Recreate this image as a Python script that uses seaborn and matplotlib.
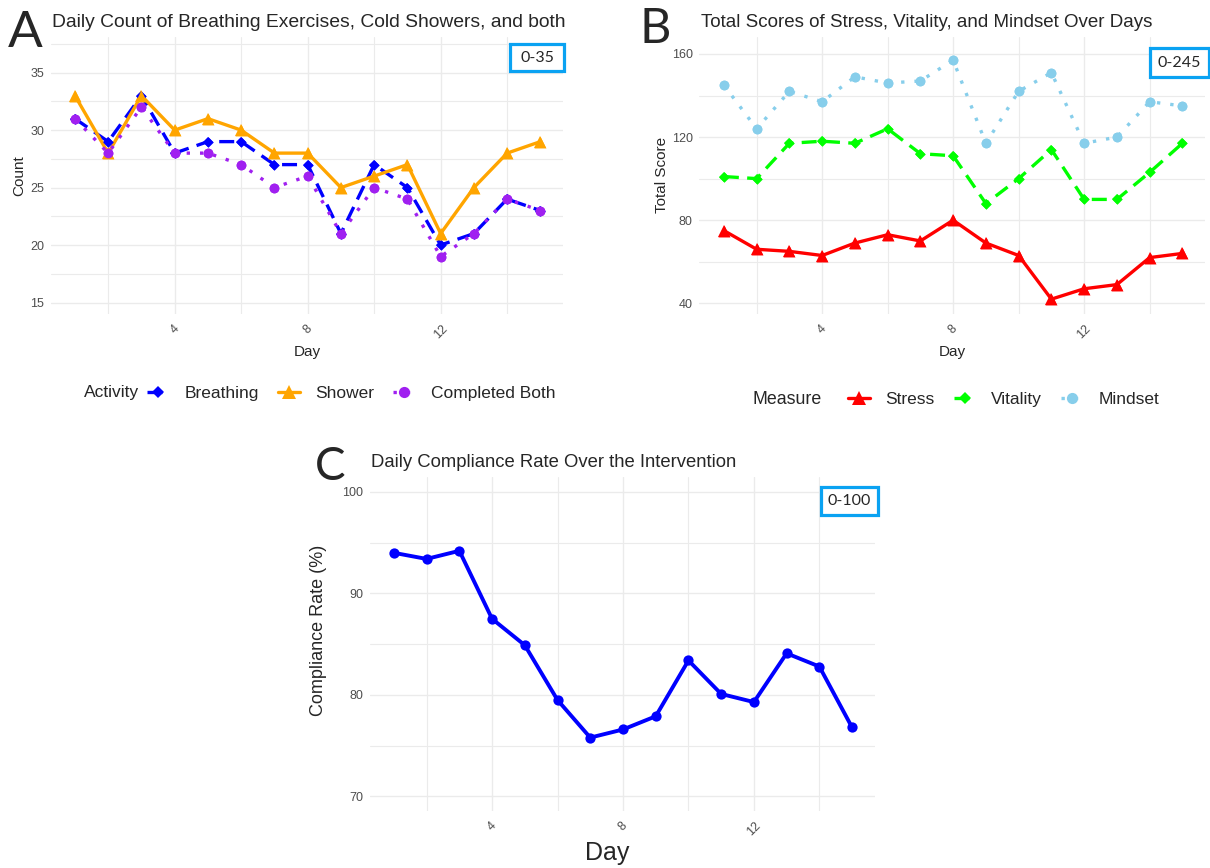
import matplotlib
matplotlib.use("Agg")
import matplotlib.pyplot as plt
import seaborn as sns
import pandas as pd
from matplotlib.patches import Rectangle

# ---------------- data ----------------
days = list(range(1, 16))

breathing = [31, 29, 33, 28, 29, 29, 27, 27, 21, 27, 25, 20, 21, 24, 23]
shower = [33, 28, 33, 30, 31, 30, 28, 28, 25, 26, 27, 21, 25, 28, 29]
completed_both = [31, 28, 32, 28, 28, 27, 25, 26, 21, 25, 24, 19, 21, 24, 23]

stress = [75, 66, 65, 63, 69, 73, 70, 80, 69, 63, 42, 47, 49, 62, 64]
vitality = [101, 100, 117, 118, 117, 124, 112, 111, 88, 100, 114, 90, 90, 103, 117]
mindset = [145, 124, 142, 137, 149, 146, 147, 157, 117, 142, 151, 117, 120, 137, 135]

compliance = [94.0, 93.4, 94.2, 87.5, 84.9, 79.5, 75.8, 76.6, 77.9, 83.4, 80.1, 79.3, 84.1, 82.8, 76.8]

activity_levels = ["Breathing", "Shower", "Completed Both"]
measure_levels = ["Stress", "Vitality", "Mindset"]

# ---------------- style ----------------
sns.set_theme(style="white")
plt.rcParams["font.family"] = ["Liberation Sans", "DejaVu Sans"]

W, H = 1210, 868
fig = plt.figure(figsize=(W / 100, H / 100), dpi=100)


def fx(px):
    return px / W


def fy(py):
    return 1 - py / H


def axes_px(l, t, r, b):
    return fig.add_axes([l / W, 1 - b / H, (r - l) / W, (b - t) / H])


GRID = "#EBEBEB"
TICK = "#4D4D4D"


def style_axes(ax, xlim, ylim, yticks, yminor):
    ax.set_xlim(*xlim)
    ax.set_ylim(*ylim)
    ax.set_xticks([4, 8, 12])
    ax.set_xticks([2, 6, 10, 14], minor=True)
    ax.set_yticks(yticks)
    ax.set_yticks(yminor, minor=True)
    ax.grid(which="major", color=GRID, lw=1.0)
    ax.grid(which="minor", color=GRID, lw=0.8)
    ax.set_axisbelow(True)
    for s in ax.spines.values():
        s.set_visible(False)
    ax.tick_params(which="both", length=0)
    ax.tick_params(axis="y", pad=4.8, labelsize=9, labelcolor=TICK)
    ax.tick_params(axis="x", pad=6.5, labelsize=9, labelcolor=TICK)
    for lab in ax.get_xticklabels():
        lab.set_rotation(45)
        lab.set_ha("center")
        lab.set_va("top")


def draw_series(ax, df, xcol, ycol, group, order, pal, marks, dashes, sizes, lw):
    sns.lineplot(data=df, x=xcol, y=ycol, hue=group, style=group,
                 hue_order=order, style_order=order, palette=pal,
                 markers=marks, dashes=dashes, lw=lw, errorbar=None,
                 markeredgewidth=0, ax=ax)
    for ln in ax.lines:
        m = ln.get_marker()
        if m in sizes:
            ln.set_markersize(sizes[m])
    for k in order:
        sub = df[df[group] == k]
        sns.scatterplot(data=sub, x=xcol, y=ycol, color=pal[k], marker=marks[k],
                        s=sizes[marks[k]] ** 2, linewidth=0, legend=False,
                        zorder=5, ax=ax)
    handles, labels = ax.get_legend_handles_labels()
    for h in handles:
        m = h.get_marker()
        if m in sizes:
            h.set_markersize(sizes[m] * 1.15)
    if ax.get_legend() is not None:
        ax.get_legend().remove()
    return handles, labels


# ---------------- Panel A ----------------
axA = axes_px(51, 36.7, 563, 314)
dfA = pd.DataFrame({
    "Day": days * 3,
    "Count": breathing + shower + completed_both,
    "Activity": [activity_levels[0]] * 15 + [activity_levels[1]] * 15 + [activity_levels[2]] * 15,
})
palA = {"Breathing": "#0000FF", "Shower": "#FFA500", "Completed Both": "#A020F0"}
marksA = {"Breathing": "D", "Shower": "^", "Completed Both": "o"}
dashA = {"Breathing": (4.5, 2.5), "Shower": "", "Completed Both": (1, 3)}
sizes = {"D": 5.4, "^": 8.6, "o": 7.0}
hA, lA = draw_series(axA, dfA, "Day", "Count", "Activity", activity_levels,
                     palA, marksA, dashA, sizes, 2.4)
style_axes(axA, (0.28, 15.68), (14.0, 38.13), [15, 20, 25, 30, 35], [17.5, 22.5, 27.5, 32.5, 37.5])
axA.set_title("Daily Count of Breathing Exercises, Cold Showers, and both",
              loc="left", fontsize=13.9, pad=7.2, x=0.001)
axA.set_xlabel("Day", fontsize=11)
axA.set_ylabel("Count", fontsize=11)
axA.xaxis.label.set_va("center")
axA.yaxis.label.set_va("center")
axA.xaxis.set_label_coords(0.5, -0.137)
axA.yaxis.set_label_coords(-0.0625, 0.5)

# ---------------- Panel B ----------------
axB = axes_px(699.3, 36.7, 1205, 314)
dfB = pd.DataFrame({
    "Day": days * 3,
    "Total Score": stress + vitality + mindset,
    "Measure": [measure_levels[0]] * 15 + [measure_levels[1]] * 15 + [measure_levels[2]] * 15,
})
palB = {"Stress": "#FF0000", "Vitality": "#00FF00", "Mindset": "#87CEEB"}
marksB = {"Stress": "^", "Vitality": "D", "Mindset": "o"}
dashB = {"Stress": "", "Vitality": (4.5, 2.5), "Mindset": (1, 3)}
hB, lB = draw_series(axB, dfB, "Day", "Total Score", "Measure", measure_levels,
                     palB, marksB, dashB, sizes, 2.4)
style_axes(axB, (0.25, 15.69), (34.85, 168.3), [40, 80, 120, 160], [60, 100, 140])
axB.set_title("Total Scores of Stress, Vitality, and Mindset Over Days",
              loc="left", fontsize=13.5, pad=7.2, x=0.004)
axB.set_xlabel("Day", fontsize=11)
axB.set_ylabel("Total Score", fontsize=11)
axB.xaxis.label.set_va("center")
axB.yaxis.label.set_va("center")
axB.xaxis.set_label_coords(0.5, -0.137)
axB.yaxis.set_label_coords(-0.0744, 0.5)

# ---------------- Panel C ----------------
axC = axes_px(370, 476.7, 875, 810.7)
dfC = pd.DataFrame({"Day": days, "Compliance Rate (%)": compliance})
sns.lineplot(data=dfC, x="Day", y="Compliance Rate (%)", color="#0000FF", lw=2.8,
             marker="o", markersize=7.4, markeredgewidth=0, errorbar=None, ax=axC)
style_axes(axC, (0.27, 15.7), (68.6, 101.5), [70, 80, 90, 100], [75, 85, 95])
axC.set_title("Daily Compliance Rate Over the Intervention",
              loc="left", fontsize=13.3, pad=7.2, x=0.001)
axC.set_xlabel("Day", fontsize=18)
axC.set_ylabel("Compliance Rate (%)", fontsize=13)
axC.xaxis.label.set_va("center")
axC.yaxis.label.set_va("center")
axC.xaxis.set_label_coords(0.47, -0.1266)
axC.yaxis.set_label_coords(-0.101, 0.541)

# ---------------- legends ----------------
leg_kw = dict(loc="center left", frameon=False, ncol=3, fontsize=12.5,
              handlelength=1.25, handletextpad=0.9, columnspacing=1.1,
              borderpad=0, borderaxespad=0)
fig.text(fx(84), fy(393), "Activity", fontsize=12.5, ha="left", va="center")
fig.legend(hA, lA, bbox_to_anchor=(fx(147), fy(393)), **leg_kw)
fig.text(fx(752), fy(399), "Measure", fontsize=12.8, ha="left", va="center")
fig.legend(hB, lB, bbox_to_anchor=(fx(848), fy(399)), **leg_kw)

# ---------------- panel letters ----------------
fig.text(fx(8), fy(46.7), "A", fontsize=37, family=["Lato", "DejaVu Sans"], ha="left", va="baseline")
fig.text(fx(640), fy(43), "B", fontsize=35, family=["Lato", "DejaVu Sans"], ha="left", va="baseline")
fig.text(fx(315), fy(480), "C", fontsize=33, family=["Lato", "DejaVu Sans"], ha="left", va="baseline")

# ---------------- range boxes ----------------
BOX = "#0AA2F2"
for (l, t, r, b, txt) in [(510, 44, 564.3, 71.3, "0-35"),
                          (1150, 48.3, 1209.3, 77.3, "0-245"),
                          (821, 486.7, 877.7, 515, "0-100")]:
    fig.add_artist(Rectangle((fx(l), fy(b)), (r - l) / W, (b - t) / H,
                             transform=fig.transFigure, fill=True, facecolor="white",
                             edgecolor=BOX, lw=2.3, zorder=10))
    fig.text(fx((l + r) / 2), fy((t + b) / 2), txt, fontsize=11.5,
             family=["Lato", "DejaVu Sans"], ha="center", va="center", zorder=11)

fig.savefig("out.png", dpi=100)
